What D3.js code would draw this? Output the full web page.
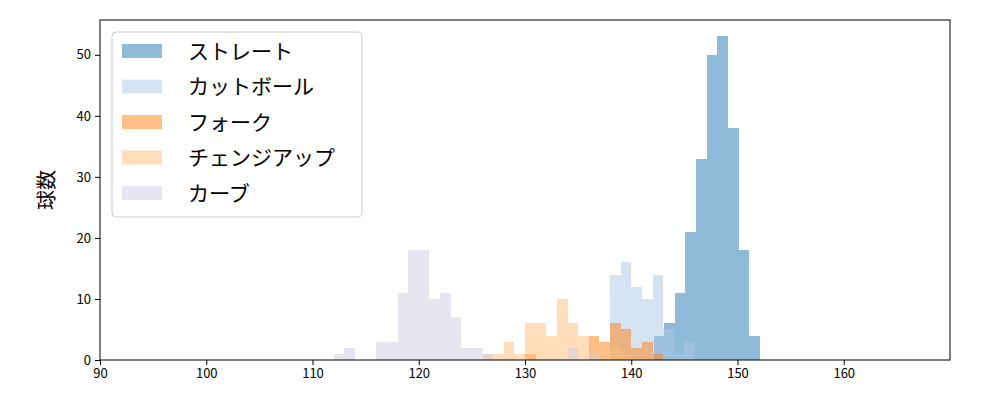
<!DOCTYPE html>
<html><head><meta charset="utf-8">
<script src="https://cdn.jsdelivr.net/npm/d3@7"></script>
<style>body{margin:0;background:#fff}text{font-family:"Noto Sans CJK JP","DejaVu Sans",sans-serif}</style>
</head><body>
<svg id="chart" width="1000" height="400"></svg>
<script>
// each series: first bin start, bin width 1, counts
var names = ["ストレート", "カットボール", "フォーク", "チェンジアップ", "カーブ"];
var colors = ["#1f77b4", "#aec7e8", "#ff7f0e", "#ffbb78", "#cecee4"];
var starts = [142.1, 138.0, 130.0, 126.0, 112.0];
var counts = [
  [4, 6, 11, 21, 33, 50, 53, 38, 18, 4],
  [14, 16, 12, 10, 14, 5, 1, 3],
  [1, 0, 0, 0, 0, 0, 4, 3, 6, 5, 2, 3, 1],
  [1, 1, 3, 1, 6, 6, 4, 10, 6, 4, 4, 1, 2, 1],
  [1, 2, 0, 0, 3, 3, 11, 18, 18, 10, 11, 7, 2, 2, 1, 0, 0, 0, 0, 0, 0, 0, 2, 0, 1]
];
var xTicks = [90, 100, 110, 120, 130, 140, 150, 160];
var yTicks = [0, 10, 20, 30, 40, 50];

var svg = d3.select("#chart"),
    margin = {top: 20, right: 50, bottom: 40, left: 100},
    width = 1000 - margin.left - margin.right,
    height = 400 - margin.top - margin.bottom;

var x = d3.scaleLinear().domain([90, 170]).range([margin.left, margin.left + width]);
var y = d3.scaleLinear().domain([0, 55.7]).range([margin.top + height, margin.top]);

[0, 1, 2, 3, 4].forEach(function(s) {
  svg.append("g").attr("shape-rendering", "crispEdges").selectAll("rect")
    .data(counts[s].map(function(c, i) { return {x0: starts[s] + i, c: c}; }).filter(function(d) { return d.c > 0; }))
    .enter().append("rect")
    .attr("x", function(d) { return Math.round(x(d.x0)); })
    .attr("width", function(d) { return Math.round(x(d.x0 + 1)) - Math.round(x(d.x0)); })
    .attr("y", function(d) { return y(d.c); })
    .attr("height", function(d) { return y(0) - y(d.c); })
    .attr("fill", colors[s])
    .attr("fill-opacity", 0.5);
});

svg.append("rect").attr("x", margin.left).attr("y", margin.top)
  .attr("width", width).attr("height", height)
  .attr("fill", "none").attr("stroke", "#000").attr("stroke-width", 1);

svg.append("g").attr("transform", "translate(0," + (margin.top + height) + ")")
  .call(d3.axisBottom(x).tickValues(xTicks).tickSize(5).tickPadding(4))
  .call(function(g) { g.select(".domain").remove(); })
  .selectAll("text").attr("font-size", 13).attr("fill", "#000");
svg.append("g").attr("transform", "translate(" + margin.left + ",0)")
  .call(d3.axisLeft(y).tickValues(yTicks).tickSize(5).tickPadding(4))
  .call(function(g) { g.select(".domain").remove(); })
  .selectAll("text").attr("font-size", 13).attr("fill", "#000");

svg.append("text").attr("transform", "translate(54," + (margin.top + height / 2) + ") rotate(-90)")
  .attr("text-anchor", "middle").attr("font-size", 20).text("球数");

var lg = svg.append("g").attr("transform", "translate(112,32)");
lg.append("rect").attr("width", 250).attr("height", 185).attr("rx", 4)
  .attr("fill", "#fff").attr("fill-opacity", 0.8).attr("stroke", "#ccc");
names.forEach(function(n, i) {
  lg.append("rect").attr("x", 10).attr("y", 12 + i * 35.5).attr("width", 40).attr("height", 14)
    .attr("fill", colors[i]).attr("fill-opacity", 0.5);
  lg.append("text").attr("x", 76).attr("y", 19 + i * 35.5).attr("dy", "0.36em")
    .attr("font-size", 21).text(n);
});
</script>
</body></html>
